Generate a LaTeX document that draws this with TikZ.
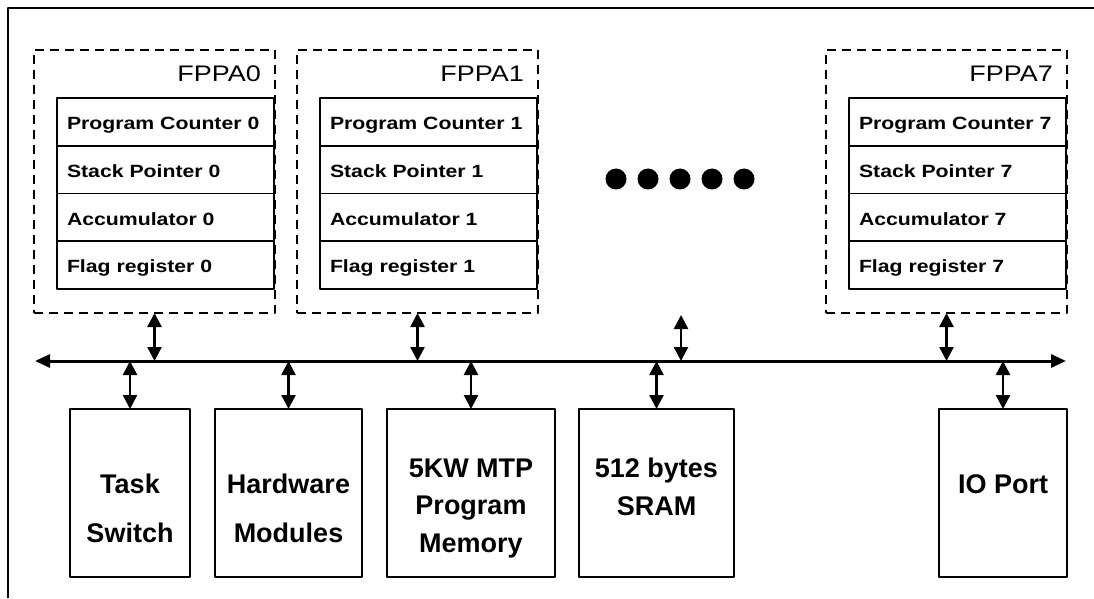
\documentclass[tikz,border=0pt]{standalone}
\usepackage{fontspec}
\setmainfont{Liberation Sans}
\newfontfamily\regfont{Liberation Sans}[FakeStretch=1.2]
\usetikzlibrary{positioning,arrows.meta}

\begin{document}
\begin{tikzpicture}[x=1pt, y=1pt, line join=round, >={Triangle[length=14pt,width=14pt]},
	fppa/.style={draw, line width=2.5pt, dash pattern=on 9pt off 6pt, minimum width=241pt, minimum height=263pt, inner sep=0pt, outer sep=0pt},
	reg/.style={draw, line width=1.6pt, minimum width=217pt, minimum height=47.75pt, text width=197pt, inner xsep=10pt, inner ysep=0pt, outer sep=0pt, align=left, text height=18pt, text depth=2.4pt, font=\regfont\bfseries\fontsize{17.7}{20}\selectfont},
	lbl/.style={anchor=base east, inner sep=0pt, font=\regfont\fontsize{22.5}{25}\selectfont},
	unit/.style={draw, line width=2pt, minimum height=168pt, inner sep=0pt, outer sep=0pt},
	utext/.style={align=center, inner sep=0pt, font=\bfseries\fontsize{27}{37.5}\selectfont},
	link/.style={<->, line width=2.5pt}]
	\useasboundingbox (0,0) rectangle (1094,598);
	\draw[line width=2pt] (8,0) -- (8,590) -- (1094,590);
	% \draw[gray!20, line width=30pt] (0,480) arc (110:60:600);
	\coordinate (busL) at (35,237);
	\coordinate (busR) at (1066,237);
	\draw[<->, line width=3pt, >={Triangle[length=15pt,width=13pt]}] (busL) -- (busR);
	\foreach \i/\x in {0/154.5,1/417.5,7/946.5}{
		\node[fppa] (fppa\i) at (\x,416.5) {};
		\node[lbl] (name\i) at ([xshift=-14pt,yshift=-32pt]fppa\i.north east) {FPPA\i};
		\node[reg, below left=48pt and 1pt of fppa\i.north east] (pc\i) {Program Counter \i};
		\node[reg, below=0pt of pc\i] (sp\i) {Stack Pointer \i};
		\node[reg, below=0pt of sp\i] (acc\i) {Accumulator \i};
		\node[reg, below=0pt of acc\i] (flag\i) {Flag register \i};
		\draw[link] (fppa\i.south) -- (fppa\i.south |- busL);
	}
	\foreach \x in {616,648,...,744} \fill (\x,419) circle (10.5);
	\coordinate (gap) at (681,283);
	\draw[link] (gap) -- (gap |- busL);
	\node[unit, minimum width=120pt] (task) at (130,105) {};
	\node[unit, minimum width=147pt] (hw) at (288.5,105) {};
	\node[unit, minimum width=168pt] (mtp) at (471,105) {};
	\node[unit, minimum width=155pt] (sram) at (656.5,105) {};
	\node[unit, minimum width=128pt] (io) at (1003,105) {};
	\foreach \u in {task,hw,mtp,sram,io} \draw[link] (\u.north |- busL) -- (\u.north);
	\node[utext, anchor=base] (tasktxt) at ([yshift=-49pt]task.center) {Task\\[11.5pt]Switch};
	\node[utext, anchor=base] (hwtxt) at ([yshift=-49pt]hw.center) {Hardware\\[11.5pt]Modules};
	\node[utext, anchor=base] (mtptxt) at ([yshift=-59pt]mtp.center) {5KW MTP\\Program\\Memory};
	\node[utext, anchor=base] (sramtxt) at ([yshift=-22pt]sram.center) {512 bytes\\SRAM};
	\node[utext, anchor=base] (iotxt) at (io.center) {IO Port};
\end{tikzpicture}
\end{document}
